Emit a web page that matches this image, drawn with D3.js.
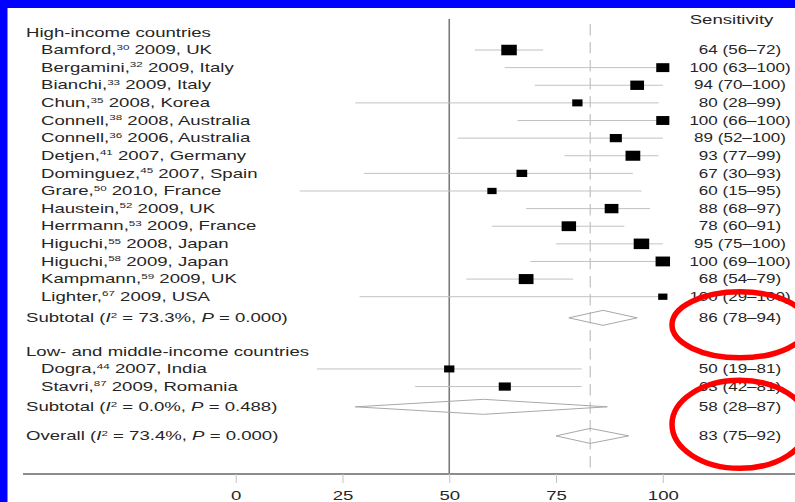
<!DOCTYPE html>
<html>
<head>
<meta charset="utf-8">
<script src="https://cdn.jsdelivr.net/npm/d3@7"></script>
<style>
  html, body { margin: 0; padding: 0; background: #fff; }
  svg { display: block; }
  text { font-family: "Liberation Sans", Arial, Helvetica, sans-serif; white-space: pre; fill: #262626; }
</style>
</head>
<body>
<svg id="chart" width="795" height="502"></svg>
<script>
// ---- Data -------------------------------------------------------------
const groupNames = ["High-income countries", "Low- and middle-income countries"];

const studyAuthors = ["Bamford", "Bergamini", "Bianchi", "Chun", "Connell", "Connell", "Detjen",
  "Dominguez", "Grare", "Haustein", "Herrmann", "Higuchi", "Higuchi", "Kampmann", "Lighter",
  "Dogra", "Stavri"];
const studyRefs = ["30", "32", "33", "35", "38", "36", "41", "45", "50", "52", "53", "55", "58", "59", "67",
  "44", "87"];
const studyYears = [2009, 2009, 2009, 2008, 2008, 2006, 2007, 2007, 2010, 2009, 2009, 2008, 2009, 2009, 2009,
  2007, 2009];
const studyCountries = ["UK", "Italy", "Italy", "Korea", "Australia", "Australia", "Germany", "Spain", "France",
  "UK", "France", "Japan", "Japan", "UK", "USA", "India", "Romania"];
const studyGroup = [0, 0, 0, 0, 0, 0, 0, 0, 0, 0, 0, 0, 0, 0, 0, 1, 1];

const sensitivity = [64, 100, 94, 80, 100, 89, 93, 67, 60, 88, 78, 95, 100, 68, 100, 50, 63];
const ciLower     = [56, 63, 70, 28, 66, 52, 77, 30, 15, 68, 60, 75, 69, 54, 29, 19, 42];
const ciUpper     = [72, 100, 100, 99, 100, 100, 99, 93, 95, 97, 91, 100, 100, 79, 100, 81, 81];
const studyWeight = [8.4, 6.0, 6.6, 3.7, 6.0, 5.1, 7.6, 4.0, 3.0, 6.6, 7.3, 8.4, 7.3, 7.6, 3.0, 3.7, 5.1];

const subtotalEst   = [86, 58];
const subtotalLower = [78, 28];
const subtotalUpper = [94, 87];
const subtotalI2    = ["73.3%", "0.0%"];
const subtotalP     = ["0.000", "0.488"];

const overallEst = 83, overallLower = 75, overallUpper = 92;
const overallI2 = "73.4%", overallP = "0.000";

const axisTicks = [0, 25, 50, 75, 100];
const referenceValue = 50;

// ---- Layout -----------------------------------------------------------
const W = 795, H = 502;
const stretch = 1.55;           // horizontal stretch applied to label text
const numStretch = 1.42;        // slightly narrower stretch for the estimate column
const fontSize = 12;
const axisY = 474;
const labelX = 26, studyLabelX = 41, estColX = 740;

const svg = d3.select("#chart");
svg.append("rect").attr("width", W).attr("height", H).attr("fill", "#fff");

const x = d3.scaleLinear().domain([0, 100]).range([235.7, 662.8]);
const rowY = d3.scaleLinear().domain([0, 1]).range([32.4, 32.4 + 17.62]);

// Build the row list: group header, studies, subtotal; then overall
const rows = [];
let r = 0;
groupNames.forEach((g, gi) => {
  if (gi > 0) r += 1.9;
  rows.push({ type: "header", gi, r });
  studyAuthors.forEach((a, i) => {
    if (studyGroup[i] !== gi) return;
    r += 1;
    rows.push({ type: "study", i, r });
  });
  r += gi === 0 ? 1.2 : 1.15;
  rows.push({ type: "subtotal", gi, r });
});
r += 1.65;
rows.push({ type: "overall", r });

// text helper with horizontal stretch
function addText(parent, px, py, anchor, sx) {
  return parent.append("text")
    .attr("transform", `translate(${px},${py}) scale(${sx || stretch},1)`)
    .attr("text-anchor", anchor || "start")
    .attr("font-size", fontSize);
}
function hetLabel(t, prefix, i2, p) {
  t.append("tspan").text(prefix + " (");
  t.append("tspan").attr("font-style", "italic").text("I");
  t.append("tspan").attr("font-size", 7.5).attr("dy", -4.5).text("2");
  t.append("tspan").attr("dy", 4.5).text(` = ${i2}, `);
  t.append("tspan").attr("font-style", "italic").text("P");
  t.append("tspan").text(` = ${p})`);
}

// ---- Reference lines ---------------------------------------------------
const gLines = svg.append("g");
gLines.append("line")
  .attr("x1", x(referenceValue)).attr("x2", x(referenceValue))
  .attr("y1", 19).attr("y2", axisY)
  .attr("stroke", "#7a7a7a").attr("stroke-width", 1.6);
gLines.append("line")
  .attr("x1", x(overallEst)).attr("x2", x(overallEst))
  .attr("y1", 24).attr("y2", axisY)
  .attr("stroke", "#b4b4b4").attr("stroke-width", 1)
  .attr("stroke-dasharray", "11.5,6.5");

// ---- Axis ---------------------------------------------------------------
svg.append("line")
  .attr("x1", 23).attr("x2", W).attr("y1", axisY).attr("y2", axisY)
  .attr("stroke", "#8c8c8c").attr("stroke-width", 1.8);
const axisG = svg.append("g")
  .attr("transform", `translate(0,${axisY})`)
  .call(d3.axisBottom(x).tickValues(axisTicks).tickSize(9).tickPadding(8.5).tickFormat(d3.format("d")));
axisG.select(".domain").remove();
axisG.selectAll(".tick line").attr("stroke", "#c4c4c4");
axisG.selectAll(".tick text")
  .attr("font-family", null).attr("font-size", fontSize)
  .attr("fill", "#262626")
  .attr("transform", `scale(${stretch},1)`);

// ---- Column header ----------------------------------------------------
addText(svg, 731.5, 24, "middle").text("Sensitivity");

// ---- Rows ---------------------------------------------------------------
const gRows = svg.append("g");
const boxW = d3.scaleSqrt().domain([0, 8.4]).range([0, 15.5]);

rows.forEach(row => {
  const cy = rowY(row.r);
  const by = cy + 4.2;
  if (row.type === "header") {
    addText(gRows, labelX, by).text(groupNames[row.gi]);
  } else if (row.type === "study") {
    const i = row.i;
    const t = addText(gRows, studyLabelX, by);
    t.append("tspan").text(studyAuthors[i] + ",");
    t.append("tspan").attr("font-size", 7.5).attr("dy", -4.5).text(studyRefs[i]);
    t.append("tspan").attr("dy", 4.5).text(` ${studyYears[i]}, ${studyCountries[i]}`);
    gRows.append("line")
      .attr("x1", x(ciLower[i])).attr("x2", x(ciUpper[i]))
      .attr("y1", cy).attr("y2", cy)
      .attr("stroke", "#c2c2c2").attr("stroke-width", 1);
    const w = boxW(studyWeight[i]), h = w * 0.68;
    gRows.append("rect")
      .attr("x", x(sensitivity[i]) - w / 2).attr("y", cy - h / 2)
      .attr("width", w).attr("height", h)
      .attr("fill", "#000");
    addText(gRows, estColX, by, "middle", numStretch)
      .text(`${sensitivity[i]} (${ciLower[i]}–${ciUpper[i]})`);
  } else {
    const est = row.type === "overall" ? overallEst : subtotalEst[row.gi];
    const lo = row.type === "overall" ? overallLower : subtotalLower[row.gi];
    const hi = row.type === "overall" ? overallUpper : subtotalUpper[row.gi];
    const t = addText(gRows, labelX, by);
    if (row.type === "overall") hetLabel(t, "Overall", overallI2, overallP);
    else hetLabel(t, "Subtotal", subtotalI2[row.gi], subtotalP[row.gi]);
    const dh = 7.5;
    gRows.append("path")
      .attr("d", `M${x(lo)},${cy} L${x(est)},${cy - dh} L${x(hi)},${cy} L${x(est)},${cy + dh} Z`)
      .attr("fill", "none").attr("stroke", "#a8a8a8").attr("stroke-width", 1);
    addText(gRows, estColX, by, "middle", numStretch).text(`${est} (${lo}–${hi})`);
  }
});

// ---- Highlight rings around the pooled estimates ----------------------
const highSub = rows.find(d => d.type === "subtotal" && d.gi === 0);
const lowSub = rows.find(d => d.type === "subtotal" && d.gi === 1);
const overallRow = rows.find(d => d.type === "overall");
svg.append("ellipse")
  .attr("cx", 740).attr("cy", rowY(highSub.r) + 7)
  .attr("rx", 68).attr("ry", 33)
  .attr("fill", "none").attr("stroke", "#ff0000").attr("stroke-width", 5.5);
svg.append("ellipse")
  .attr("cx", 740).attr("cy", (rowY(lowSub.r) + rowY(overallRow.r)) / 2 + 3)
  .attr("rx", 68).attr("ry", 44)
  .attr("fill", "none").attr("stroke", "#ff0000").attr("stroke-width", 5.5);

// ---- Frame ----------------------------------------------------------------
svg.append("rect").attr("x", 0).attr("y", 0).attr("width", W).attr("height", 8).attr("fill", "#0000ff");
svg.append("rect").attr("x", 0).attr("y", 0).attr("width", 7.5).attr("height", H).attr("fill", "#0000ff");
</script>
</body>
</html>
